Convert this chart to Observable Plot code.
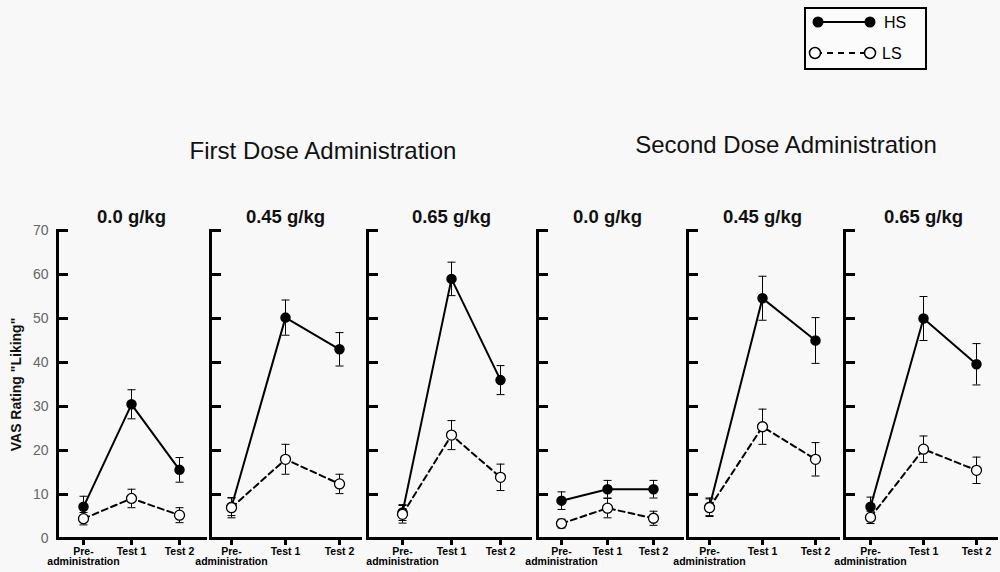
<!DOCTYPE html>
<html>
<head>
<meta charset="utf-8">
<script src="https://cdn.jsdelivr.net/npm/d3@7"></script>
<script src="https://cdn.jsdelivr.net/npm/@observablehq/plot@0.6"></script>
<style>
  html, body { margin: 0; padding: 0; background: #f8f8f8; }
  #chart { position: relative; width: 1000px; height: 572px; background: #f8f8f8; overflow: hidden;
           font-family: "Liberation Sans", Arial, sans-serif; }
  .sec { position: absolute; font-size: 24px; line-height: 24px; color: #111; white-space: nowrap; transform: translateX(-50%); }
  #chart svg { position: absolute; }
</style>
</head>
<body>
<div id="chart"></div>
<script>
// ---------- data ----------
const sectionTitles = ["First Dose Administration", "Second Dose Administration"];
const doseLabels = ["0.0 g/kg", "0.45 g/kg", "0.65 g/kg", "0.0 g/kg", "0.45 g/kg", "0.65 g/kg"];
const timepoints = ["Pre-\nadministration", "Test 1", "Test 2"];
const seriesNames = ["HS", "LS"];
const yTicks = [0, 10, 20, 30, 40, 50, 60, 70];
const yTitle = "VAS Rating \"Liking\"";

const hsMean = [[7.2, 30.5, 15.6], [7.2, 50.2, 43.0], [5.9, 59.0, 36.0], [8.6, 11.2, 11.2], [7.2, 54.6, 45.0], [7.2, 50.0, 39.6]];
const hsErr  = [[2.4, 3.3, 2.8],   [2.0, 4.0, 3.8],   [1.8, 3.8, 3.3],   [2.0, 2.0, 2.0],   [2.0, 5.0, 5.2],   [2.2, 5.0, 4.7]];
const lsMean = [[4.5, 9.1, 5.3],   [7.0, 18.0, 12.4], [5.5, 23.5, 13.9], [3.4, 6.9, 4.6],   [7.0, 25.4, 18.0], [4.8, 20.3, 15.5]];
const lsErr  = [[1.4, 2.1, 1.7],   [2.3, 3.4, 2.2],   [2.0, 3.3, 3.0],   [1.0, 2.2, 1.6],   [2.0, 4.0, 3.8],   [1.4, 3.0, 3.0]];

// ---------- layout (pixel placement only) ----------
const FONT = "'Liberation Sans', Arial, sans-serif";
const ML = 60, TOP = 190;
const layout = [
  {axis: 57,  w: 150, pre: 26, t2: 122},
  {axis: 210, w: 152, pre: 20, t2: 129},
  {axis: 367, w: 165, pre: 35, t2: 133},
  {axis: 537, w: 147, pre: 23, t2: 116},
  {axis: 687, w: 153, pre: 21, t2: 128},
  {axis: 844, w: 154, pre: 26, t2: 132}
];
const sectionPos = [{x: 323, y: 139}, {x: 786, y: 133}];

const chart = document.getElementById("chart");

sectionTitles.forEach((t, i) => {
  const d = document.createElement("div");
  d.className = "sec";
  d.textContent = t;
  d.style.left = sectionPos[i].x + "px";
  d.style.top = sectionPos[i].y + "px";
  chart.appendChild(d);
});

const capSymbol = {
  draw(ctx, size) {
    const w = Math.sqrt(size / Math.PI);
    ctx.moveTo(-w, 0);
    ctx.lineTo(w, 0);
  }
};

layout.forEach((L, i) => {
  const hs = timepoints.map((t, k) => ({t, v: hsMean[i][k], e: hsErr[i][k], s: seriesNames[0]}));
  const ls = timepoints.map((t, k) => ({t, v: lsMean[i][k], e: lsErr[i][k], s: seriesNames[1]}));
  const all = hs.concat(ls);
  const first = i === 0;
  const svg = Plot.plot({
    width: ML + L.w + 4,
    height: 572 - TOP,
    marginLeft: ML,
    marginRight: 4,
    marginTop: 40,
    marginBottom: 34,
    style: {background: "transparent", fontFamily: FONT, overflow: "visible", color: "black"},
    x: {type: "point", domain: timepoints, range: [ML + L.pre, ML + L.t2], padding: 0},
    y: first ? {domain: [0, 70]} : {domain: [0, 70], axis: null},
    marks: [
      Plot.ruleY([0], {strokeWidth: 3}),
      Plot.frame({anchor: "left", strokeWidth: 3}),
      Plot.tickY(yTicks, {y: d => d, strokeWidth: 3, insetRight: L.w - 11}),
      first ? Plot.axisY(yTicks, {tickSize: 0, tickPadding: 9, fontSize: 14, fill: "#666", label: null}) : null,
      first ? Plot.text([yTitle], {frameAnchor: "left", rotate: -90, dx: -41, textAnchor: "middle",
                                   fontSize: 14, fontWeight: "bold", fill: "#111"}) : null,
      Plot.axisX({tickSize: 7, strokeWidth: 3, tickPadding: 2, fontSize: 10.5, fontWeight: "bold",
                  label: null, lineHeight: 1.0}),
      Plot.ruleX(all, {x: "t", y1: d => d.v - d.e, y2: d => d.v + d.e, strokeWidth: 1}),
      Plot.dot(all, {x: "t", y: d => d.v + d.e, symbol: capSymbol, r: 4, stroke: "black", strokeWidth: 1}),
      Plot.dot(all, {x: "t", y: d => d.v - d.e, symbol: capSymbol, r: 4, stroke: "black", strokeWidth: 1}),
      Plot.line(hs, {x: "t", y: "v", stroke: "black", strokeWidth: 2}),
      Plot.line(ls, {x: "t", y: "v", stroke: "black", strokeWidth: 2, strokeDasharray: "6,4"}),
      Plot.dot(hs, {x: "t", y: "v", r: 4.5, fill: "black", stroke: "black"}),
      Plot.dot(ls, {x: "t", y: "v", r: 5, fill: "white", stroke: "black", strokeWidth: 1.3}),
      Plot.text([doseLabels[i]], {x: () => timepoints[1], frameAnchor: "top", lineAnchor: "bottom", dy: -8,
                                  fontSize: 18.5, fontWeight: "bold", fill: "#111"})
    ]
  });
  svg.style.left = (L.axis - ML) + "px";
  svg.style.top = TOP + "px";
  chart.appendChild(svg);
});

// ---------- legend ----------
const leg = d3.select(chart).append("svg")
  .attr("width", 124).attr("height", 64)
  .style("left", "804px").style("top", "7px");
leg.append("rect").attr("x", 1).attr("y", 1).attr("width", 121).attr("height", 61)
  .attr("fill", "#fbfbfb").attr("stroke", "black").attr("stroke-width", 2);
leg.append("line").attr("x1", 14).attr("x2", 66).attr("y1", 15).attr("y2", 15)
  .attr("stroke", "black").attr("stroke-width", 2);
[14, 66].forEach(cx => leg.append("circle").attr("cx", cx).attr("cy", 15).attr("r", 5.5).attr("fill", "black"));
leg.append("text").attr("x", 80).attr("y", 21).text(seriesNames[0])
  .attr("font-size", 16).attr("font-family", FONT);
leg.append("line").attr("x1", 12).attr("x2", 64).attr("y1", 46).attr("y2", 46)
  .attr("stroke", "black").attr("stroke-width", 2).attr("stroke-dasharray", "6,5");
[11, 66].forEach(cx => leg.append("circle").attr("cx", cx).attr("cy", 46).attr("r", 5.5)
  .attr("fill", "white").attr("stroke", "black").attr("stroke-width", 1.5));
leg.append("text").attr("x", 78).attr("y", 52).text(seriesNames[1])
  .attr("font-size", 16).attr("font-family", FONT);
</script>
</body>
</html>
